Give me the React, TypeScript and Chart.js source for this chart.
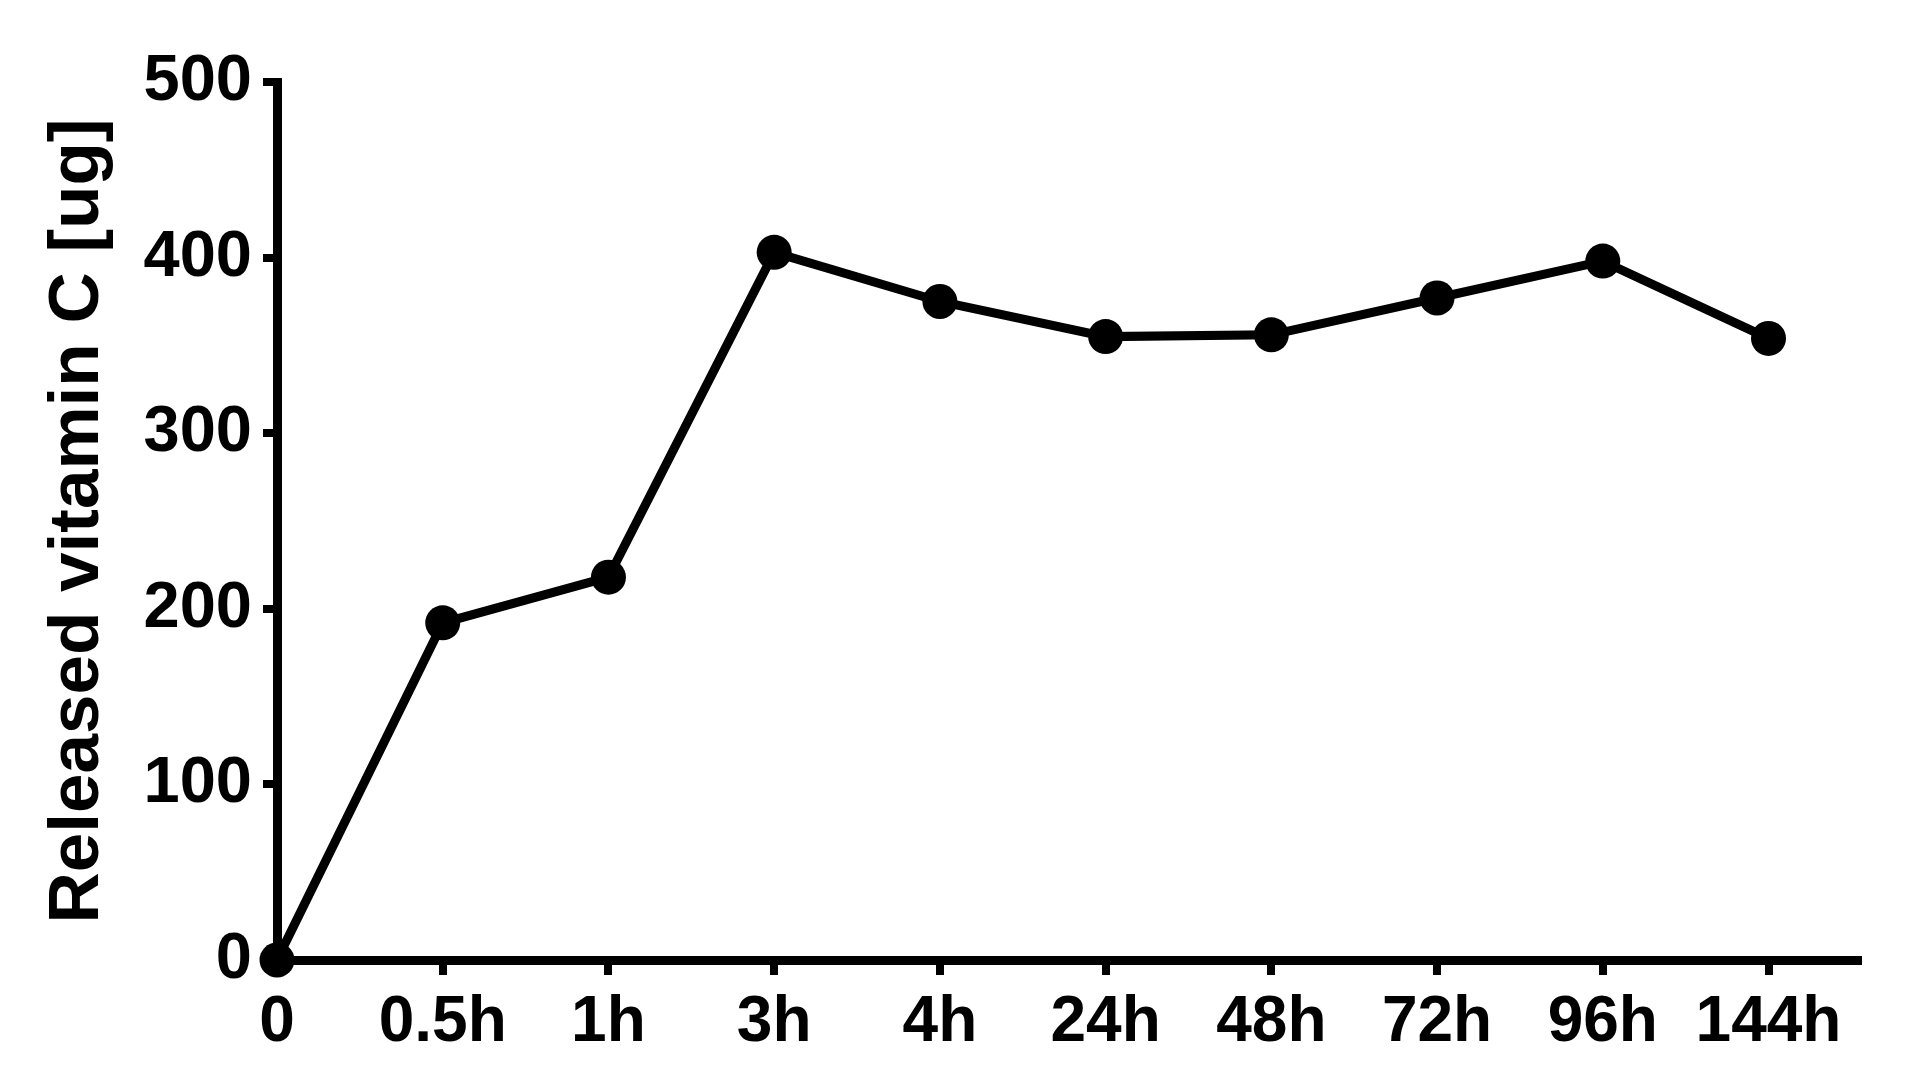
import React, { useEffect, useRef } from "react";
import { Chart, registerables } from "chart.js";

Chart.register(...registerables);

const categories = ["0", "0.5h", "1h", "3h", "4h", "24h", "48h", "72h", "96h", "144h"];
const releasedVitC = [0, 192, 218, 403, 375, 355, 356, 377, 398, 354];
const yTicks = [0, 100, 200, 300, 400, 500];

const FONT = "'Liberation Sans', Arial, Helvetica, sans-serif";

export default function App() {
  const ref = useRef<HTMLCanvasElement | null>(null);

  useEffect(() => {
    if (!ref.current) return;
    const data = releasedVitC.map((v, i) => ({ x: i, y: v }));
    const chart = new Chart(ref.current, {
      type: "line",
      data: {
        datasets: [
          {
            data,
            borderColor: "#000",
            backgroundColor: "#000",
            borderWidth: 9,
            pointRadius: 17.5,
            pointBorderWidth: 0,
            pointBackgroundColor: "#000",
            tension: 0,
            clip: false as any,
          },
        ],
      },
      options: {
        animation: false,
        responsive: true,
        maintainAspectRatio: false,
        layout: { padding: { top: 82, right: 48, left: 0, bottom: 0 } },
        plugins: { legend: { display: false }, tooltip: { enabled: false } },
        scales: {
          x: {
            type: "linear",
            min: 0,
            max: 9.54,
            afterFit: (s: any) => {
              s.height = 123;
            },
            afterBuildTicks: (s: any) => {
              s.ticks = categories.map((_, i) => ({ value: i }));
            },
            border: { display: true, color: "#000", width: 9 },
            grid: {
              drawOnChartArea: false,
              drawTicks: true,
              tickLength: 15,
              color: "#000",
              lineWidth: 8,
            },
            ticks: {
              color: "#000",
              padding: 10,
              maxRotation: 0,
              autoSkip: false,
              font: { family: FONT, size: 64, weight: "bold" },
              callback: (v: any) => categories[Math.round(Number(v))] ?? "",
            },
          },
          y: {
            type: "linear",
            min: 0,
            max: 500,
            afterFit: (s: any) => {
              s.width = 277;
            },
            afterBuildTicks: (s: any) => {
              s.ticks = yTicks.map((v) => ({ value: v }));
            },
            border: { display: true, color: "#000", width: 9 },
            grid: {
              drawOnChartArea: false,
              drawTicks: true,
              tickLength: 14,
              color: "#000",
              lineWidth: 8,
            },
            ticks: {
              color: "#000",
              padding: 11,
              font: { family: FONT, size: 65, weight: "bold" },
            },
            title: {
              display: true,
              text: "Released vitamin C [ug]",
              color: "#000",
              padding: { top: 36, bottom: 0 },
              font: { family: FONT, size: 71, weight: "bold" },
            },
          },
        },
      },
    });
    return () => chart.destroy();
  }, []);

  return (
    <div style={{ position: "fixed", left: 0, top: 0, width: 1906, height: 1083, background: "#fff" }}>
      <canvas ref={ref} />
    </div>
  );
}
